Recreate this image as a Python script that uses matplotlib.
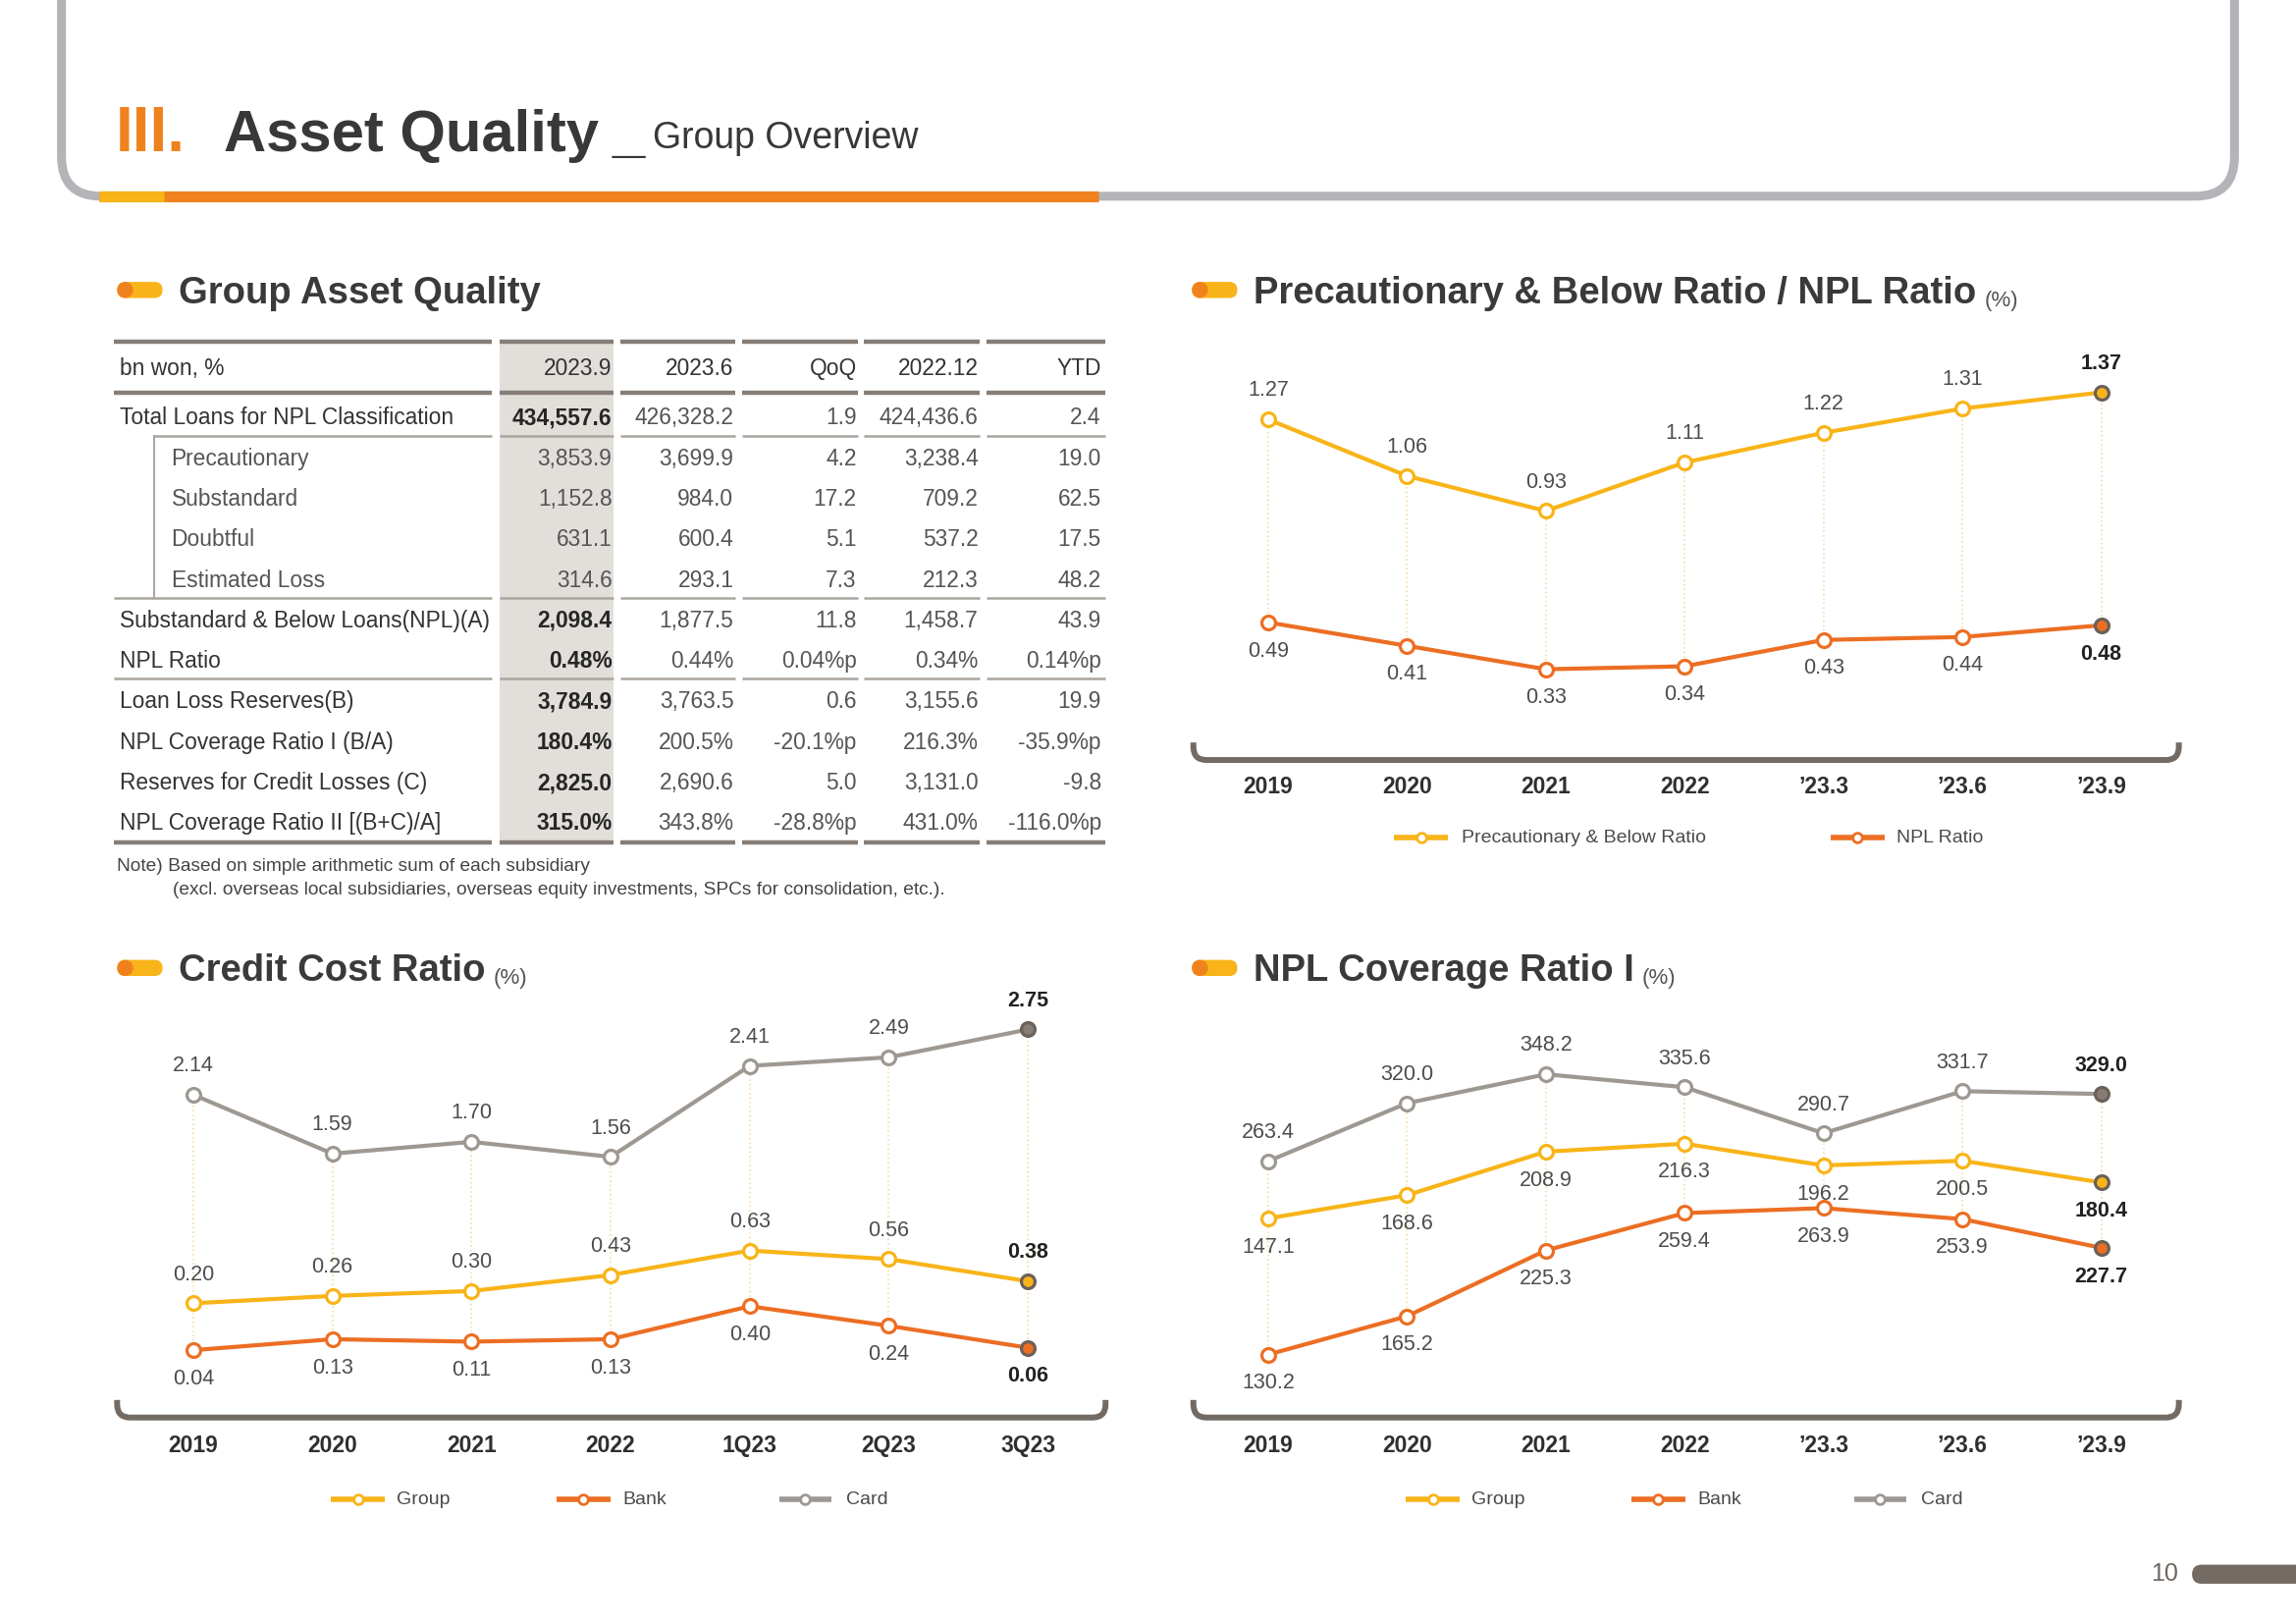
import matplotlib
matplotlib.use("Agg")
import matplotlib.pyplot as plt
from matplotlib.path import Path
from matplotlib.patches import PathPatch, FancyBboxPatch, Rectangle, Circle

plt.rcParams['font.family'] = ['Liberation Sans', 'DejaVu Sans']

# ---------------- data ----------------
table_header = ["bn won, %", "2023.9", "2023.6", "QoQ", "2022.12", "YTD"]
row_labels = ["Total Loans for NPL Classification", "Precautionary", "Substandard",
              "Doubtful", "Estimated Loss", "Substandard & Below Loans(NPL)(A)",
              "NPL Ratio", "Loan Loss Reserves(B)", "NPL Coverage Ratio I (B/A)",
              "Reserves for Credit Losses (C)", "NPL Coverage Ratio II [(B+C)/A]"]
col_2023_9 = ["434,557.6", "3,853.9", "1,152.8", "631.1", "314.6", "2,098.4",
              "0.48%", "3,784.9", "180.4%", "2,825.0", "315.0%"]
col_2023_6 = ["426,328.2", "3,699.9", "984.0", "600.4", "293.1", "1,877.5",
              "0.44%", "3,763.5", "200.5%", "2,690.6", "343.8%"]
col_qoq = ["1.9", "4.2", "17.2", "5.1", "7.3", "11.8",
           "0.04%p", "0.6", "-20.1%p", "5.0", "-28.8%p"]
col_2022_12 = ["424,436.6", "3,238.4", "709.2", "537.2", "212.3", "1,458.7",
               "0.34%", "3,155.6", "216.3%", "3,131.0", "431.0%"]
col_ytd = ["2.4", "19.0", "62.5", "17.5", "48.2", "43.9",
           "0.14%p", "19.9", "-35.9%p", "-9.8", "-116.0%p"]
sub_rows = [1, 2, 3, 4]

periods_q = ["2019", "2020", "2021", "2022", "\u201923.3", "\u201923.6", "\u201923.9"]
periods_cc = ["2019", "2020", "2021", "2022", "1Q23", "2Q23", "3Q23"]

prec_ratio = [1.27, 1.06, 0.93, 1.11, 1.22, 1.31, 1.37]
npl_ratio = [0.49, 0.41, 0.33, 0.34, 0.43, 0.44, 0.48]

cc_group = [0.20, 0.26, 0.30, 0.43, 0.63, 0.56, 0.38]
cc_bank = [0.04, 0.13, 0.11, 0.13, 0.40, 0.24, 0.06]
cc_card = [2.14, 1.59, 1.70, 1.56, 2.41, 2.49, 2.75]

cov_group = [147.1, 168.6, 208.9, 216.3, 196.2, 200.5, 180.4]
cov_bank = [130.2, 165.2, 225.3, 259.4, 263.9, 253.9, 227.7]
cov_card = [263.4, 320.0, 348.2, 335.6, 290.7, 331.7, 329.0]

# ---------------- style ----------------
GRAY = '#b4b4b8'
ORANGE = '#f0821e'
YELLOW = '#f8b418'
BANK = '#ec6e23'
CARD = '#9e9892'
CARD_DARK = '#877d76'
EDGE_DARK = '#6b6159'
BROWN = '#736a63'
DARK = '#333333'
MID = '#555555'

W, H = 1568, 1109  # layout grid (page units)
fig = plt.figure(figsize=(23.39, 16.54), dpi=100)
bg = fig.add_axes([0, 0, 1, 1])
bg.set_xlim(0, W)
bg.set_ylim(H, 0)
bg.axis('off')


def u_path(x0, x1, y_top, y_bot, r):
    verts = [(x0, y_top), (x0, y_bot - r), (x0, y_bot), (x0 + r, y_bot),
             (x1 - r, y_bot), (x1, y_bot), (x1, y_bot - r), (x1, y_top)]
    codes = [Path.MOVETO, Path.LINETO, Path.CURVE3, Path.CURVE3,
             Path.LINETO, Path.CURVE3, Path.CURVE3, Path.LINETO]
    return Path(verts, codes)


# header frame
bg.add_patch(PathPatch(u_path(42, 1526, -10, 134, 27), fill=False, ec=GRAY, lw=6.5,
                       capstyle='butt', joinstyle='round'))
bg.plot([68, 750], [134, 134], color=ORANGE, lw=8, solid_capstyle='butt')
bg.plot([68, 112], [134, 134], color=YELLOW, lw=8, solid_capstyle='butt')

bg.text(79, 103, "III.", color=ORANGE, fontsize=46, fontweight='bold', va='baseline')
bg.text(153, 103, "Asset Quality", color='#383838', fontsize=43, fontweight='bold',
        va='baseline')
bg.text(418, 103, "_", color='#383838', fontsize=43, fontweight='bold', va='baseline')
bg.text(446, 101, "Group Overview", color='#383838', fontsize=27, va='baseline')


def section(x, y, title, unit=None):
    bg.add_patch(FancyBboxPatch((x, y - 5.5), 31, 11, boxstyle='round,pad=0,rounding_size=5.5',
                                fc=YELLOW, ec='none'))
    bg.add_patch(Circle((x + 5.5, y), 5.5, fc=ORANGE, ec='none'))
    t = bg.text(x + 42, y + 9, title, fontsize=27.5, fontweight='bold', color='#3a3a3a',
                va='baseline')
    if unit:
        bg.annotate(unit, xy=(1, 0), xycoords=t, xytext=(6, 0), textcoords='offset points',
                    fontsize=16, color='#555555', va='bottom')


section(80, 198, "Group Asset Quality")
section(814, 198, "Precautionary & Below Ratio / NPL Ratio", "(%)")
section(80, 661, "Credit Cost Ratio", "(%)")
section(814, 661, "NPL Coverage Ratio I", "(%)")

# ---------------- table ----------------
col_edges = [(78, 336), (341, 419), (424, 502), (507, 586), (590, 669), (674, 755)]
col_right = [418, 501, 585, 668, 752]
THICK = '#867d76'
THIN = '#aba59f'

bg.add_patch(Rectangle((341, 233), 78, 342, fc='#e2dfdb', ec='none', zorder=0))


def hline(y, lw, color, first_start=None):
    for k, (a, b) in enumerate(col_edges):
        if k == 0 and first_start is not None:
            a = first_start
        bg.plot([a, b], [y, y], color=color, lw=lw, solid_capstyle='butt')


hline(233, 3.2, THICK)
hline(268, 3.2, THICK)
hline(297.5, 1.8, THIN, first_start=105)
hline(408.5, 1.8, THIN)
hline(463.5, 1.8, THIN)
hline(575, 3.2, THICK)
bg.plot([105, 105], [297.5, 408.5], color=THIN, lw=1.5)

TFS = 16.4
bg.text(82, 252, table_header[0], fontsize=TFS, color=DARK, va='center')
for k, h in enumerate(table_header[1:]):
    bg.text(col_right[k], 252, h, fontsize=TFS, color=DARK, va='center', ha='right')

columns = [col_2023_9, col_2023_6, col_qoq, col_2022_12, col_ytd]
for i, lab in enumerate(row_labels):
    y = 285.5 + 27.7 * i
    sub = i in sub_rows
    bg.text(117 if sub else 82, y, lab, fontsize=TFS, color=MID if sub else DARK, va='center')
    for k, col in enumerate(columns):
        if k == 0 and not sub:
            bg.text(col_right[k], y, col[i], fontsize=TFS, color='#262626', fontweight='bold',
                    va='center', ha='right')
        else:
            bg.text(col_right[k], y, col[i], fontsize=TFS, color=MID, va='center', ha='right')

bg.text(80, 592, "Note) Based on simple arithmetic sum of each subsidiary",
        fontsize=13.8, color='#444444', va='center')
bg.text(118, 607.5, "(excl. overseas local subsidiaries, overseas equity investments, "
        "SPCs for consolidation, etc.).", fontsize=13.8, color='#444444', va='center')


# ---------------- line charts ----------------
def line_chart(left, right, top, bottom, labels, series, fmt):
    ax = fig.add_axes([left / W, 1 - bottom / H, (right - left) / W, (bottom - top) / H])
    ax.patch.set_alpha(0)
    n = len(labels)
    ax.set_xlim(-0.5, n - 0.5)
    ax.set_ylim(0, 1)
    for s in ax.spines.values():
        s.set_visible(False)
    ax.set_yticks([])
    ax.set_xticks(range(n))
    ax.set_xticklabels(labels, fontsize=16.5, fontweight='bold', color='#2f2f2f')
    ax.tick_params(axis='x', length=0, pad=32)

    scaled = []
    for vals, color, lo, hi, side, last_fill in series:
        scaled.append([(v - lo) / (hi - lo) for v in vals])
    for i in range(n):
        col = [s[i] for s in scaled]
        ax.plot([i, i], [min(col), max(col)], color='#f5d49a', lw=1.1,
                linestyle=(0, (1, 2)), zorder=1)

    for (vals, color, lo, hi, side, last_fill), ys in zip(series, scaled):
        x = list(range(n))
        ax.plot(x, ys, color=color, lw=3, zorder=2)
        ax.plot(x[:-1], ys[:-1], 'o', ms=10, mfc='white', mec=color, mew=2.3, zorder=3)
        ax.plot(x[-1:], ys[-1:], 'o', ms=10, mfc=last_fill, mec=EDGE_DARK, mew=2.3, zorder=3)
        off = 21 if side == 'above' else -21
        for i, (v, yy) in enumerate(zip(vals, ys)):
            last = i == n - 1
            ax.annotate(fmt.format(v), (i, yy), xytext=(0, off), textcoords='offset points',
                        ha='center', va='center', fontsize=15.5,
                        color='#222222' if last else '#4d4d4d',
                        fontweight='bold' if last else 'normal')
    return ax


line_chart(818.6, 1482.4, 240, 500, periods_q,
           [(prec_ratio, YELLOW, 0.109, 1.522, 'above', YELLOW),
            (npl_ratio, BANK, 0.115, 1.415, 'below', BANK)], "{:.2f}")

line_chart(84.5, 749.5, 690, 950, periods_cc,
           [(cc_card, CARD, -0.629, 2.928, 'above', CARD_DARK),
            (cc_group, YELLOW, -0.517, 2.589, 'above', YELLOW),
            (cc_bank, BANK, -0.296, 2.825, 'below', BANK)], "{:.2f}")

line_chart(818.6, 1482.4, 690, 950, periods_q,
           [(cov_card, CARD, 39.1, 410.5, 'above', CARD_DARK),
            (cov_group, YELLOW, -13.0, 339.8, 'below', YELLOW),
            (cov_bank, BANK, 96.8, 444.4, 'below', BANK)], "{:.1f}")

# brackets under charts
for x0, x1, yt, yb in [(815, 1488, 507, 519), (80, 755, 956, 968), (815, 1488, 956, 968)]:
    bg.add_patch(PathPatch(u_path(x0, x1, yt, yb, 9), fill=False, ec=BROWN, lw=4.3,
                           capstyle='butt', joinstyle='round'))


# legends
def legend_item(x0, x1, y, color, text, tx):
    bg.plot([x0, x1], [y, y], color=color, lw=4, solid_capstyle='butt')
    bg.plot([(x0 + x1) / 2], [y], 'o', ms=7, mfc='white', mec=color, mew=2)
    bg.text(tx, y, text, va='center', fontsize=14, color='#4a4a4a')


legend_item(952, 989, 572, YELLOW, "Precautionary & Below Ratio", 998)
legend_item(1250, 1287, 572, BANK, "NPL Ratio", 1295)
for base in (0, 734):
    legend_item(226 + base, 263 + base, 1024, YELLOW, "Group", 271 + base)
    legend_item(380 + base, 417 + base, 1024, BANK, "Bank", 425 + base)
    legend_item(532 + base, 568 + base, 1024, CARD, "Card", 578 + base)

# page number
bg.text(1478, 1075, "10", fontsize=18, color='#6e6660', ha='center', va='center')
bg.add_patch(FancyBboxPatch((1497, 1068.5), 100, 13, boxstyle='round,pad=0,rounding_size=6.5',
                            fc=BROWN, ec='none'))

fig.savefig("out.png", dpi=100)
